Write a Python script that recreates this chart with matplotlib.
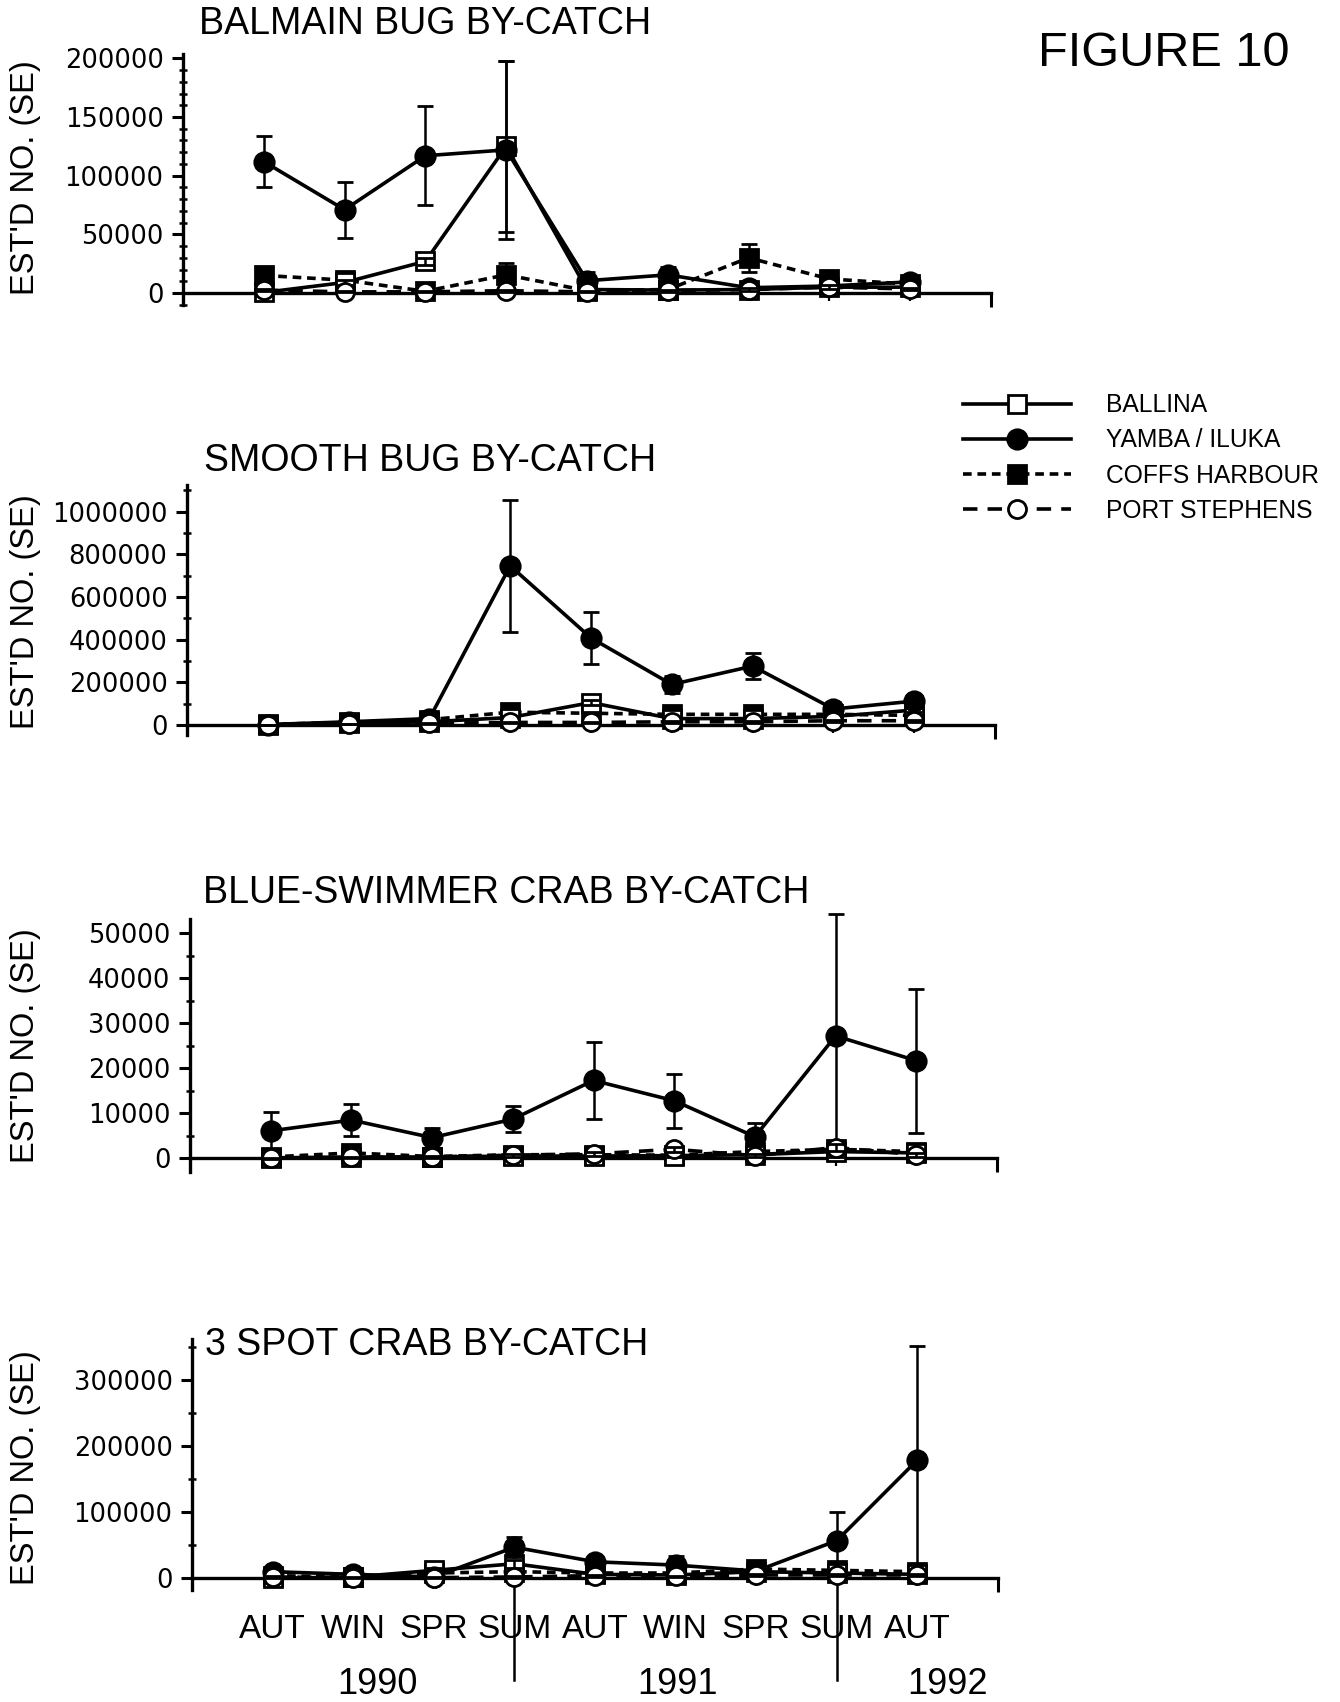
import matplotlib
matplotlib.use("Agg")
import matplotlib.pyplot as plt
from matplotlib import transforms, font_manager
from matplotlib.lines import Line2D
from matplotlib.ticker import MultipleLocator, FuncFormatter

# ---------------------------------------------------------------- data
seasons = ["AUT", "WIN", "SPR", "SUM", "AUT", "WIN", "SPR", "SUM", "AUT"]
years = ["1990", "1991", "1992"]
sites = ["BALLINA", "YAMBA / ILUKA", "COFFS HARBOUR", "PORT STEPHENS"]

# Balmain bug
balmain_ballina = [500, 9000, 27000, 125000, 3000, 2500, 3000, 5000, 5000]
balmain_ballina_se = [300, 2000, 3000, 73000, 1000, 1000, 1000, 1500, 1500]
balmain_yamba = [112000, 71000, 117000, 122000, 10500, 15500, 4500, 6000, 9500]
balmain_yamba_se = [22000, 24000, 42000, 76000, 7000, 7000, 2000, 3000, 3000]
balmain_coffs = [15000, 11000, 1500, 15500, 2000, 3000, 30000, 12000, 7500]
balmain_coffs_se = [4000, 3000, 1000, 10000, 1000, 1000, 12000, 4000, 2500]
balmain_port = [2500, 1000, 1000, 2000, 1000, 2000, 3000, 5000, 3500]
balmain_port_se = [800, 500, 500, 800, 500, 800, 1000, 1500, 1000]

# Smooth bug
smooth_ballina = [1000, 8000, 15000, 35000, 105000, 30000, 30000, 40000, 70000]
smooth_ballina_se = [500, 3000, 5000, 8000, 12000, 5000, 5000, 8000, 8000]
smooth_yamba = [2000, 15000, 30000, 746000, 408000, 190000, 276000, 75000, 112000]
smooth_yamba_se = [2000, 8000, 10000, 308000, 120000, 42000, 62000, 35000, 15000]
smooth_coffs = [3000, 12000, 25000, 60000, 55000, 50000, 50000, 50000, 45000]
smooth_coffs_se = [2000, 5000, 8000, 10000, 10000, 8000, 8000, 8000, 8000]
smooth_port = [1000, 5000, 8000, 12000, 12000, 15000, 15000, 20000, 20000]
smooth_port_se = [500, 2000, 3000, 4000, 4000, 4000, 4000, 5000, 5000]

# Blue-swimmer crab
blue_ballina = [100, 300, 300, 500, 500, 600, 800, 1500, 1200]
blue_ballina_se = [100, 200, 200, 300, 300, 300, 400, 600, 500]
blue_yamba = [6100, 8500, 4600, 8700, 17300, 12800, 4800, 27200, 21700]
blue_yamba_se = [4200, 3600, 2200, 2900, 8600, 6000, 3000, 27000, 16000]
blue_coffs = [300, 1200, 400, 800, 800, 700, 1500, 2000, 1500]
blue_coffs_se = [200, 500, 200, 300, 300, 300, 500, 700, 500]
blue_port = [0, 200, 300, 700, 1000, 2000, 600, 2400, 800]
blue_port_se = [50, 100, 200, 300, 400, 600, 300, 800, 400]

# 3 spot crab
spot_ballina = [0, 2000, 12000, 22000, 6000, 5000, 10000, 8000, 6000]
spot_ballina_se = [200, 800, 3000, 6000, 2000, 2000, 3000, 3000, 2000]
spot_yamba = [10000, 6000, 2000, 47000, 25000, 20000, 11000, 57000, 179000]
spot_yamba_se = [3000, 2000, 1500, 15000, 5000, 14000, 3000, 44000, 172000]
spot_coffs = [4000, 2000, 8000, 10000, 8000, 8000, 14000, 12000, 10000]
spot_coffs_se = [1500, 800, 3000, 3000, 3000, 3000, 4000, 4000, 3000]
spot_port = [2000, 1000, 1000, 2000, 4000, 3000, 5000, 5000, 5000]
spot_port_se = [800, 500, 500, 800, 1500, 1000, 1500, 1500, 1500]

panels = [
    dict(title="BALMAIN BUG BY-CATCH",
         series=[(balmain_ballina, balmain_ballina_se), (balmain_yamba, balmain_yamba_se),
                 (balmain_coffs, balmain_coffs_se), (balmain_port, balmain_port_se)],
         major=50000, minor=10000, yticks_max=200000),
    dict(title="SMOOTH BUG BY-CATCH",
         series=[(smooth_ballina, smooth_ballina_se), (smooth_yamba, smooth_yamba_se),
                 (smooth_coffs, smooth_coffs_se), (smooth_port, smooth_port_se)],
         major=200000, minor=100000, yticks_max=1000000),
    dict(title="BLUE-SWIMMER CRAB BY-CATCH",
         series=[(blue_ballina, blue_ballina_se), (blue_yamba, blue_yamba_se),
                 (blue_coffs, blue_coffs_se), (blue_port, blue_port_se)],
         major=10000, minor=5000, yticks_max=50000),
    dict(title="3 SPOT CRAB BY-CATCH",
         series=[(spot_ballina, spot_ballina_se), (spot_yamba, spot_yamba_se),
                 (spot_coffs, spot_coffs_se), (spot_port, spot_port_se)],
         major=100000, minor=50000, yticks_max=300000),
]

# ---------------------------------------------------------------- layout
W, H, DPI = 1340, 1702, 100
# (left px, right px, top px, bottom px, ylim low, ylim high, title x px, title y px, ylabel y px)
frames = [
    (183, 991, 54, 305, -10200, 203700, 199, 24, 178),
    (187, 995, 485, 735, -46900, 1125000, 204, 461, 612),
    (190, 997, 919, 1172, -3040, 53180, 203, 893, 1046),
    (192, 998, 1339, 1590, -17700, 362000, 205, 1345, 1468),
]

avail = {f.name for f in font_manager.fontManager.ttflist}
SANS = "Liberation Sans"
NARROW = "Liberation Sans Narrow" if "Liberation Sans Narrow" in avail else None

styles = {
    "BALLINA": dict(marker="s", ms=13, mfc="white", ls="-", z=3),
    "YAMBA / ILUKA": dict(marker="o", ms=14, mfc="black", ls="-", z=4),
    "COFFS HARBOUR": dict(marker="s", ms=13, mfc="black", ls=(0, (2.4, 1.6)), z=2),
    "PORT STEPHENS": dict(marker="o", ms=13, mfc="white", ls=(0, (4, 2.8)), z=5),
}
draw_order = ["COFFS HARBOUR", "BALLINA", "YAMBA / ILUKA", "PORT STEPHENS"]

fig = plt.figure(figsize=(W / DPI, H / DPI), dpi=DPI)
fig.patch.set_facecolor("white")


def fx(px):
    return px / W


def fy(py):
    return 1 - py / H


plain = FuncFormatter(lambda v, pos: f"{int(round(v))}")

x = list(range(1, len(seasons) + 1))
axes = []
for panel, fr in zip(panels, frames):
    left, right, top, bottom, ylo, yhi, tx, ty, ly = fr
    ax = fig.add_axes([fx(left), fy(bottom), (right - left) / W, (bottom - top) / H])
    axes.append(ax)
    ax.set_xlim(0, 10)
    ax.set_ylim(ylo, yhi)
    for name in draw_order:
        vals, se = panel["series"][sites.index(name)]
        st = styles[name]
        cont = ax.errorbar(x, vals, yerr=se, color="black", lw=2.6, ls=st["ls"],
                           marker=st["marker"], ms=st["ms"], mfc=st["mfc"], mec="black",
                           mew=2.0, ecolor="black", elinewidth=1.8, capsize=6,
                           capthick=2.6, zorder=st["z"])
        for art in cont.get_children():
            art.set_clip_on(False)
            art.set_zorder(st["z"])

    for s in ("top", "right"):
        ax.spines[s].set_visible(False)
    ax.spines["bottom"].set_position(("data", 0))
    ax.spines["left"].set_linewidth(2.4)
    ax.spines["bottom"].set_linewidth(2.4)

    ax.set_yticks(list(range(0, panel["yticks_max"] + 1, panel["major"])))
    ax.yaxis.set_major_formatter(plain)
    ax.yaxis.set_minor_locator(MultipleLocator(panel["minor"]))
    ax.tick_params(axis="y", which="major", direction="out", length=8, width=2.2,
                   labelsize=18.5, pad=6, labelfontfamily="DejaVu Sans")
    ax.tick_params(axis="y", which="minor", direction="inout", length=6, width=1.8)
    ax.set_xticks([10])
    ax.set_xticks(x, minor=True)
    ax.tick_params(axis="x", which="major", direction="out", length=10, width=2.2,
                   labelbottom=False)
    ax.tick_params(axis="x", which="minor", direction="out", length=6, width=1.6,
                   labelbottom=False)

    fig.text(fx(tx), fy(ty), panel["title"], ha="left", va="center",
             fontsize=27, family=SANS)
    fig.text(fx(26), fy(ly), "EST'D NO. (SE)", rotation=90, ha="center",
             va="center", fontsize=23.5, family=SANS)

# season / year axis under the last panel
ax4 = axes[-1]
trans = transforms.blended_transform_factory(ax4.transData, fig.transFigure)
for pos in (4, 8):
    ax4.add_line(Line2D([pos, pos], [fy(1578), fy(1680)], transform=trans,
                        color="black", lw=1.8, clip_on=False, zorder=1))
for xi, s in zip(x, seasons):
    if NARROW:
        ax4.text(xi, fy(1630), s, transform=trans, ha="center", va="center",
                 fontsize=28, family=NARROW)
    else:
        ax4.text(xi, fy(1630), s, transform=trans, ha="center", va="center",
                 fontsize=24, family=SANS)
for yx, yr in zip([2.3, 6.02, 9.38], years):
    ax4.text(yx, fy(1684), yr, transform=trans, ha="center", va="center",
             fontsize=26, family=SANS)

fig.text(fx(1164), fy(54), "FIGURE 10", ha="center", va="center",
         fontsize=35, family=SANS)

# legend
handles = []
for name in sites:
    st = styles[name]
    handles.append(Line2D([], [], color="black", lw=2.6, ls=st["ls"], marker=st["marker"],
                          ms=st["ms"], mfc=st["mfc"], mec="black", mew=2.0))
leg = fig.legend(handles, sites, loc="center left",
                 bbox_to_anchor=(fx(963), fy(458)), frameon=False,
                 handlelength=4.4, handletextpad=1.4, labelspacing=0.45,
                 borderpad=0, borderaxespad=0, numpoints=1,
                 prop=dict(family=SANS, size=17.7))

fig.savefig("out.png", dpi=DPI, facecolor="white")
